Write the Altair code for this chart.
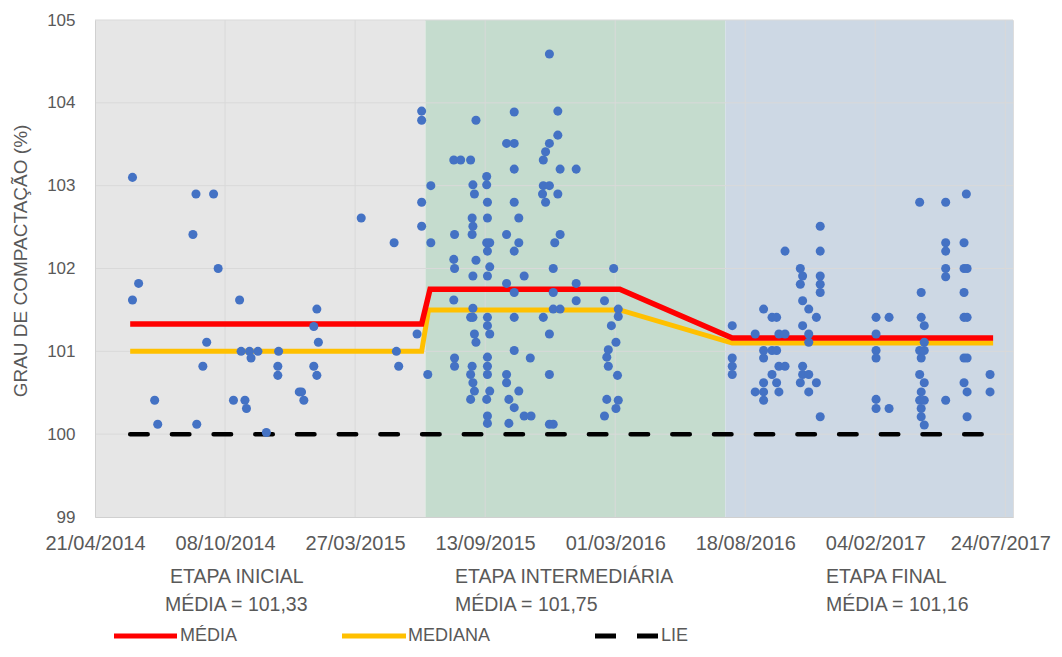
import altair as alt
import pandas as pd

# ---------------- data (dates as Excel serial numbers, 41750 = 21/04/2014) ----------------
ini_datas = [41799, 41799, 41807, 41828, 41832, 41878, 41882, 41883, 41891, 41896,
             41905, 41911, 41931, 41939, 41941, 41946, 41948, 41952, 41954, 41963,
             41974, 41989, 41989, 41990, 42017, 42020, 42023, 42036, 42036, 42040,
             42040, 42042, 42098, 42141, 42144, 42147, 42171, 42177, 42177, 42177, 42177]
ini_gc = [103.10, 101.62, 101.82, 100.41, 100.12, 102.41, 102.90, 100.12, 100.82, 101.11,
          102.90, 102.00, 100.41, 101.62, 101.00, 100.41, 100.31, 101.00, 100.92, 101.00,
          100.02, 100.82, 100.71, 101.00, 100.51, 100.51, 100.41, 101.30, 100.82, 101.51,
          100.71, 101.11, 102.61, 102.31, 101.00, 100.82, 101.21, 103.90, 103.79, 102.80, 102.51]

int_datas = ([42185] + [42189] * 2 + [42219] * 3 + [42220] * 4 + [42228] + [42241] * 4 +
             [42243] * 3 + [42244] * 6 + [42246] * 3 + [42248] * 3 + [42262] * 4 +
             [42263] * 11 + [42266] * 4 + [42288] * 5 + [42291] * 2 + [42298] * 9 +
             [42304] * 3 + [42311] * 2 + [42319, 42320, 42335] + [42336] * 3 + [42339] * 2 +
             [42344] * 6 + [42349] * 4 + [42351] + [42355] * 3 + [42358] * 3 + [42379] * 3 +
             [42416] * 2 + [42419] * 2 + [42421] * 2 + [42425, 42428] + [42431] * 2 +
             [42433] + [42434] * 3)
int_gc = [100.72,
          103.00, 102.31,
          103.31, 102.11, 101.62,
          102.41, 102.00, 100.92, 100.82,
          103.31,
          103.31, 101.41, 100.72, 100.42,
          102.61, 102.41, 100.82,
          103.01, 102.51, 101.91, 101.52, 101.41, 100.62,
          102.90, 101.21, 100.52,
          103.79, 102.10, 101.11,
          103.11, 103.01, 102.31, 100.42,
          102.80, 102.61, 102.21, 101.91, 101.41, 101.31, 100.93, 100.82, 100.72, 100.22, 100.13,
          102.31, 102.02, 101.21, 100.52,
          103.51, 102.41, 101.82, 100.72, 100.62,
          100.42, 100.13,
          103.89, 103.51, 103.20, 102.80, 102.21, 101.71, 101.41, 101.01, 100.32,
          102.61, 102.31, 100.52,
          101.91, 100.22,
          100.92, 100.22, 102.90,
          103.31, 103.00, 101.41,
          103.41, 102.80,
          104.59, 103.51, 103.00, 101.21, 100.72, 100.12,
          102.00, 101.71, 101.51, 100.12,
          102.31,
          103.90, 103.61, 102.90,
          103.20, 102.41, 101.51,
          103.20, 101.82, 101.61,
          101.61, 100.22,
          100.93, 100.42,
          101.02, 100.82,
          101.31, 102.00,
          101.11, 100.31,
          100.71,
          101.51, 101.42, 100.41]

fin_datas = ([42583] * 4 + [42613] * 2 + [42624] * 6 + [42635] * 3 + [42641] * 3 +
             [42644] * 3 + [42652] * 3 + [42672] * 3 + [42675] * 5 + [42683] * 5 +
             [42693] * 2 + [42698] * 6 + [42771] * 6 + [42788] * 2 + [42828] * 4 +
             [42830] * 6 + [42834] * 6 + [42862] * 6 + [42886] * 6 + [42889] +
             [42890] * 5 + [42920] * 2)
fin_gc = [101.31, 100.92, 100.82, 100.72,
          101.21, 100.51,
          101.51, 101.01, 100.92, 100.62, 100.51, 100.41,
          101.41, 101.01, 100.72,
          101.41, 101.01, 100.62,
          101.21, 100.82, 100.51,
          102.21, 101.21, 100.82,
          102.00, 101.81, 100.62,
          101.91, 101.61, 101.31, 100.82, 100.72,
          101.51, 101.21, 101.11, 100.72, 100.51,
          101.41, 100.62,
          102.51, 102.21, 101.91, 101.81, 101.71, 100.21,
          101.41, 101.21, 101.01, 100.92, 100.42, 100.31,
          101.41, 100.31,
          102.80, 101.01, 100.72, 100.41,
          101.71, 101.41, 100.92, 100.51, 100.31, 100.21,
          101.31, 101.11, 101.01, 100.62, 100.41, 100.11,
          102.80, 102.31, 102.21, 102.00, 101.90, 100.41,
          102.31, 102.00, 101.71, 101.41, 100.92, 100.62,
          102.90,
          102.00, 101.41, 100.92, 100.51, 100.21,
          100.72, 100.51]

media_datas = [41796, 42177, 42188, 42436, 42583, 42924]
media_vals = [101.33, 101.33, 101.75, 101.75, 101.16, 101.16]
mediana_datas = [41796, 42177, 42186, 42436, 42583, 42924]
mediana_vals = [101.00, 101.00, 101.50, 101.50, 101.10, 101.10]
lie_datas = [41796, 42924]
lie_vals = [100.0, 100.0]

etapas = ["INICIAL", "INTERMEDIÁRIA", "FINAL"]
etapa_ini = [41750, 42182, 42574]
etapa_fim = [42182, 42574, 42950]
etapa_medias = ["101,33", "101,75", "101,16"]

x_tick_labels = ["21/04/2014", "08/10/2014", "27/03/2015", "13/09/2015",
                 "01/03/2016", "18/08/2016", "04/02/2017", "24/07/2017"]
y_ticks = [99, 100, 101, 102, 103, 104, 105]

# ---------------- helpers ----------------
EXCEL0 = pd.Timestamp("1899-12-30")
x_ticks = [(pd.to_datetime(s, format="%d/%m/%Y") - EXCEL0).days for s in x_tick_labels]

W, H = 918, 497
FONT = "Liberation Sans"
GREY = "#595959"

x_scale = alt.Scale(domain=[41750, 42950], nice=False, zero=False)
y_scale = alt.Scale(domain=[99, 105], nice=False, zero=False)

xax = alt.Axis(values=x_ticks, title=None, grid=False, ticks=False,
               labelExpr="utcFormat((datum.value - 25569) * 86400000, '%d/%m/%Y')",
               labelFontSize=20, labelColor=GREY, labelFont=FONT, labelPadding=16,
               labelOffset={"condition": {"test": "datum.value > 42900", "value": -5},
                            "value": 0},
               labelFlush=False, domainColor="#D0D0D0", zindex=1)
yax = alt.Axis(values=y_ticks, format="d", title="GRAU DE COMPACTAÇÃO (%)",
               grid=False, ticks=False, labelFontSize=17, labelColor=GREY, labelFont=FONT,
               labelPadding=20, domainColor="#D0D0D0", titleFont=FONT, titleFontSize=19,
               titleFontWeight="normal", titleColor=GREY, titleX=-75, titleY=H / 2 - 8,
               titleAngle=270, titleAlign="center", titleBaseline="middle", zindex=1)

X = lambda f: alt.X(f, type="quantitative", scale=x_scale, axis=xax)
Y = lambda f: alt.Y(f, type="quantitative", scale=y_scale, axis=yax)

# backgrounds
bands = pd.DataFrame({"ini": etapa_ini, "fim": etapa_fim, "etapa": etapas})
bg = alt.Chart(bands).mark_rect().encode(
    x=X("ini"), x2="fim", y=alt.value(0), y2=alt.value(H),
    color=alt.Color("etapa:N", scale=alt.Scale(domain=etapas,
                    range=["#E6E6E6", "#C5DCCE", "#CDD8E4"]), legend=None))

# gridlines
grid_y = alt.Chart(pd.DataFrame({"v": y_ticks[1:]})).mark_rule(
    color="#D9D9D9", strokeWidth=1).encode(y=Y("v"))
grid_x = alt.Chart(pd.DataFrame({"t": x_ticks[1:]})).mark_rule(
    color="#D9D9D9", strokeWidth=1).encode(x=X("t"))

def line_df(d, v):
    return pd.DataFrame({"t": d, "v": v})

lie = alt.Chart(line_df(lie_datas, lie_vals)).mark_line(
    color="black", strokeWidth=4.5, strokeDash=[17.5, 24.2], strokeCap="round").encode(
    x=X("t"), y=Y("v"))
mediana = alt.Chart(line_df(mediana_datas, mediana_vals)).mark_line(
    color="#FFC000", strokeWidth=5).encode(x=X("t"), y=Y("v"))
media = alt.Chart(line_df(media_datas, media_vals)).mark_line(
    color="#FF0000", strokeWidth=5.5).encode(x=X("t"), y=Y("v"))

pts_df = pd.DataFrame({"t": ini_datas + int_datas + fin_datas,
                       "v": ini_gc + int_gc + fin_gc})
pts = alt.Chart(pts_df).mark_circle(size=82, color="#4472C4", opacity=1).encode(
    x=X("t"), y=Y("v"))

one = pd.DataFrame({"k": [0]})

def txt(s, x, y, size=19.5):
    return alt.Chart(one).mark_text(text=s, font=FONT, fontSize=size, color=GREY,
                                    align="left", baseline="middle").encode(
        x=alt.value(x), y=alt.value(y))

def leg_rule(x1, x2, y, color, dash=None):
    kw = dict(color=color, strokeWidth=5)
    if dash:
        kw["strokeDash"] = dash
    return alt.Chart(one).mark_rule(**kw).encode(
        x=alt.value(x1), x2=alt.value(x2), y=alt.value(y))

annots = [
    txt("ETAPA " + etapas[0], 75, 557), txt("MÉDIA = " + etapa_medias[0], 70, 585),
    txt("ETAPA " + etapas[1], 360, 557), txt("MÉDIA = " + etapa_medias[1], 360, 585),
    txt("ETAPA " + etapas[2], 731, 557), txt("MÉDIA = " + etapa_medias[2], 731, 585),
]
LY = 616
legend = [
    leg_rule(19, 82, LY, "#FF0000"), txt("MÉDIA", 85, LY, 18),
    leg_rule(247, 311, LY, "#FFC000"), txt("MEDIANA", 313, LY, 18),
    leg_rule(500, 563, LY, "black", [21, 21]), txt("LIE", 566, LY, 18),
]

chart = alt.layer(bg, grid_y, grid_x, lie, mediana, media, pts, *annots, *legend).properties(
    width=W, height=H,
    padding={"left": 87, "top": 12, "right": 41, "bottom": 127},
    autosize=alt.AutoSizeParams(type="none"),
).configure_view(stroke=None).configure(background="white")

chart.save("out.html", embed_options={"renderer": "svg", "actions": False})
